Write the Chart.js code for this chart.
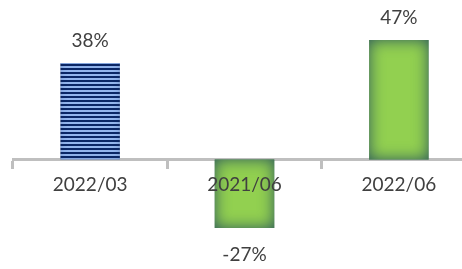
<!DOCTYPE html>
<html>
<head>
<meta charset="utf-8">
<script src="https://cdn.jsdelivr.net/npm/chart.js@4.4.1/dist/chart.umd.min.js"></script>
<style>
  html, body { margin: 0; padding: 0; background: #fff; overflow: hidden; }
  #wrap { width: 476px; height: 269px; }
</style>
</head>
<body>
<div id="wrap"><canvas id="c"></canvas></div>
<script>
const labels = ["2022/03", "2021/06", "2022/06"];
const values = [38, -27, 47];
const valueLabels = ["38%", "-27%", "47%"];

const ink = "#404040";
const axisGrey = "#bfbfbf";
const font = "Lato, 'Open Sans', sans-serif";

// 横縞パターン(1本目の棒)
function stripePattern() {
  const pc = document.createElement("canvas");
  pc.width = 4;
  pc.height = 4;
  const p = pc.getContext("2d");
  p.fillStyle = "#93b6ee";
  p.fillRect(0, 0, 4, 4);
  p.fillStyle = "#0a2766";
  p.fillRect(0, 0, 4, 2);
  return p.createPattern(pc, "repeat");
}
const stripes = stripePattern();
const fills = [stripes, "#92d050", "#92d050"];
const glow = ["rgba(20,40,90,0.5)", "rgba(44,88,92,1)", "rgba(44,88,92,1)"];

// 棒の内側の影(縁が暗くなる効果)
const innerShadowPlugin = {
  id: "innerShadow",
  afterDatasetDraw(chart, args) {
    const ctx = chart.ctx;
    args.meta.data.forEach((bar, i) => {
      const x1 = bar.x - bar.width / 2;
      const top = Math.min(bar.y, bar.base);
      const h = Math.abs(bar.base - bar.y);
      ctx.save();
      ctx.beginPath();
      ctx.rect(x1, top, bar.width, h);
      ctx.clip();
      ctx.beginPath();
      ctx.rect(x1 - 60, top - 60, bar.width + 120, h + 120);
      ctx.rect(x1, top, bar.width, h);
      ctx.shadowColor = glow[i];
      ctx.shadowBlur = i === 0 ? 6 : 15;
      ctx.fillStyle = glow[i];
      ctx.fill("evenodd");
      ctx.restore();
    });
  },
};

// 棒の上下に値ラベル
const valueLabelPlugin = {
  id: "valueLabels",
  afterDatasetsDraw(chart) {
    const ctx = chart.ctx;
    ctx.save();
    ctx.font = `19px ${font}`;
    ctx.fillStyle = ink;
    ctx.textAlign = "center";
    ctx.textBaseline = "middle";
    chart.getDatasetMeta(0).data.forEach((bar, i) => {
      const y = values[i] >= 0 ? bar.y - 22 : bar.y + 27;
      ctx.fillText(valueLabels[i], bar.x, y);
    });
    ctx.restore();
  },
};

new Chart(document.getElementById("c"), {
  type: "bar",
  data: {
    labels,
    datasets: [
      {
        data: values,
        backgroundColor: fills,
        borderWidth: 0,
        categoryPercentage: 1,
        barPercentage: 0.385,
      },
    ],
  },
  options: {
    responsive: true,
    maintainAspectRatio: false,
    animation: false,
    layout: { padding: { left: 13, right: 0, top: 7, bottom: 8 } },
    plugins: { legend: { display: false }, tooltip: { enabled: false } },
    scales: {
      x: {
        position: { y: 0 },
        afterFit: (s) => { s.height = 0; },
        border: { color: axisGrey, width: 3 },
        grid: { offset: true, drawOnChartArea: false, drawTicks: true, tickLength: 8, color: axisGrey, lineWidth: 3 },
        ticks: { z: 1, color: ink, font: { family: font, size: 19 }, padding: 6 },
      },
      y: {
        display: false,
        min: -40,
        max: 60,
      },
    },
  },
  plugins: [innerShadowPlugin, valueLabelPlugin],
});
</script>
</body>
</html>
